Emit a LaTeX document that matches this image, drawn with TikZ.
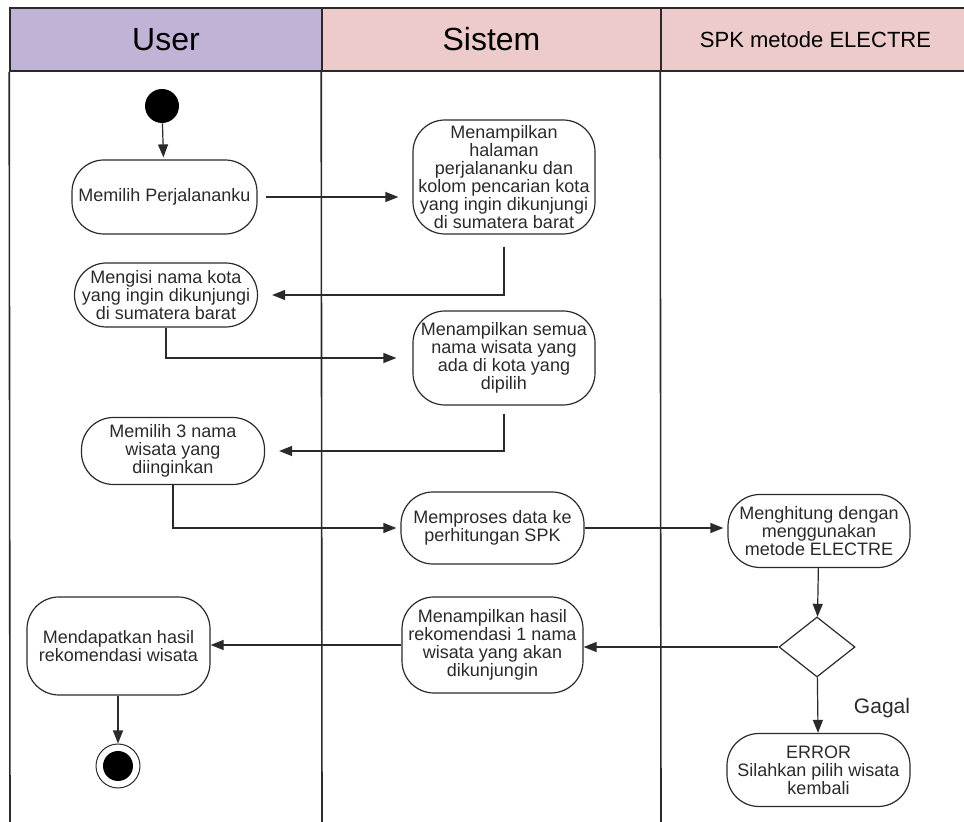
\documentclass[tikz,border=0pt]{standalone}
\usepackage{fontspec}
\setmainfont{Liberation Sans}
\usetikzlibrary{arrows.meta, shapes.geometric}

\definecolor{userlane}{HTML}{C0B3D6}
\definecolor{syslane}{HTML}{EDCBCB}
\definecolor{ink}{HTML}{2A2A2A}

\newcommand{\actfont}{\fontsize{9}{9}\selectfont}

\tikzset{
  lanehead/.style={draw=ink, line width=0.8pt, minimum height=31.5pt, inner sep=0pt},
  laneline/.style={draw=ink, line width=0.8pt},
  act/.style={draw=ink, line width=0.6pt, rounded corners=16pt, align=center,
              font=\actfont, text=ink, inner sep=0pt},
  flow/.style={->, draw=ink, line width=0.6pt},
  loose/.style={flow, shorten >=7pt, shorten <=4pt},
}

\begin{document}
\begin{tikzpicture}[x=0.5pt, y=-0.5pt, >={Triangle[length=6.5pt, width=5pt]}]

  \useasboundingbox (0,0) rectangle (964,822);

  %%%%%%%%%%%%%%%%%%%%%%%%%%%%%%%%%%%%%%%%%%%%%%%%%
  % Lanes
  \node[lanehead, fill=userlane, minimum width=156pt, font=\fontsize{16}{18}\selectfont]
      (huser) at (166,39.5) {User};
  \node[lanehead, fill=syslane, minimum width=169.5pt, font=\fontsize{16}{18}\selectfont]
      (hsistem) at (491.5,39.5) {Sistem};
  \node[lanehead, fill=syslane, minimum width=154.5pt, font=\fontsize{11}{13}\selectfont]
      (hspk) at (815.5,39.5) {SPK metode ELECTRE};

  \draw[laneline] (huser.south west) -- (10,822);
  \draw[laneline] (hsistem.south west) -- (322,822);
  \draw[laneline] (hspk.south west) -- (661,822);

  %%%%%%%%%%%%%%%%%%%%%%%%%%%%%%%%%%%%%%%%%%%%%%%%%
  % User
  \node[circle, fill=black, minimum size=17pt, inner sep=0pt] (start) at (162,106) {};

  \node[act, minimum width=92.5pt, minimum height=37pt] (memilih) at (164.5,197)
      {Memilih Perjalananku};
  \node[act, minimum width=91.5pt, minimum height=32pt] (mengisi) at (166,295)
      {Mengisi nama kota\\yang ingin dikunjungi\\di sumatera barat};
  \node[act, minimum width=91.5pt, minimum height=33.5pt] (memilih3) at (173,451)
      {Memilih 3 nama\\wisata yang\\diinginkan};
  \node[act, minimum width=91.5pt, minimum height=49pt] (dapat) at (118.5,646)
      {Mendapatkan hasil\\rekomendasi wisata};

  \node[circle, draw=ink, line width=0.5pt, minimum size=22pt, inner sep=0pt] (stop) at (118,766) {};
  \node[circle, fill=black, minimum size=15pt, inner sep=0pt] (stopdot) at (stop) {};

  %%%%%%%%%%%%%%%%%%%%%%%%%%%%%%%%%%%%%%%%%%%%%%%%%
  % Sistem
  \node[act, minimum width=91pt, minimum height=57pt] (tampil1) at (504,177)
      {Menampilkan\\halaman\\perjalananku dan\\kolom pencarian kota\\yang ingin dikunjungi\\di sumatera barat};
  \node[act, minimum width=91pt, minimum height=47pt] (tampil2) at (504,358)
      {Menampilkan semua\\nama wisata yang\\ada di kota yang\\dipilih};
  \node[act, minimum width=91.5pt, minimum height=36pt] (proses) at (492.5,528)
      {Memproses data ke\\perhitungan SPK};
  \node[act, minimum width=90.5pt, minimum height=48pt] (hasil) at (492.5,645)
      {Menampilkan hasil\\rekomendasi 1 nama\\wisata yang akan\\dikunjungin};

  %%%%%%%%%%%%%%%%%%%%%%%%%%%%%%%%%%%%%%%%%%%%%%%%%
  % SPK metode ELECTRE
  \node[act, minimum width=91pt, minimum height=36.5pt] (hitung) at (819,531)
      {Menghitung dengan\\menggunakan\\metode ELECTRE};
  \node[diamond, draw=ink, line width=0.6pt, minimum width=38pt, minimum height=30pt, inner sep=0pt]
      (cek) at (817,647) {};
  \node[act, minimum width=91.5pt, minimum height=36.5pt] (error) at (818.5,770)
      {ERROR\\Silahkan pilih wisata\\kembali};
  \node[font=\fontsize{10.5}{12}\selectfont, text=ink] (gagal) at (882,708) {Gagal};

  %%%%%%%%%%%%%%%%%%%%%%%%%%%%%%%%%%%%%%%%%%%%%%%%%
  % Flow
  \draw[flow, shorten >=1pt] (start) -- (memilih);
  \draw[loose] (memilih.east) -- (memilih.east -| tampil1.west);
  \draw[loose, shorten <=6pt] (tampil1.south) |- (mengisi.east);
  \draw[flow, shorten >=8pt] (mengisi.south) |- (tampil2.west);
  \draw[loose] (tampil2.south) |- (memilih3.east);
  \draw[flow, shorten >=2pt] (memilih3.south) |- (proses.west);
  \draw[flow, shorten >=2pt] (proses.east) -- (proses.east -| hitung.west);
  \draw[flow] (hitung) -- (cek);
  \draw[flow] (cek.west) -- (cek.west -| hasil.east);
  \draw[flow] (hasil.west) -- (hasil.west -| dapat.east);
  \draw[flow] (cek) -- (error);
  \draw[flow] (dapat.south -| stop) -- (stop);

\end{tikzpicture}
\end{document}
